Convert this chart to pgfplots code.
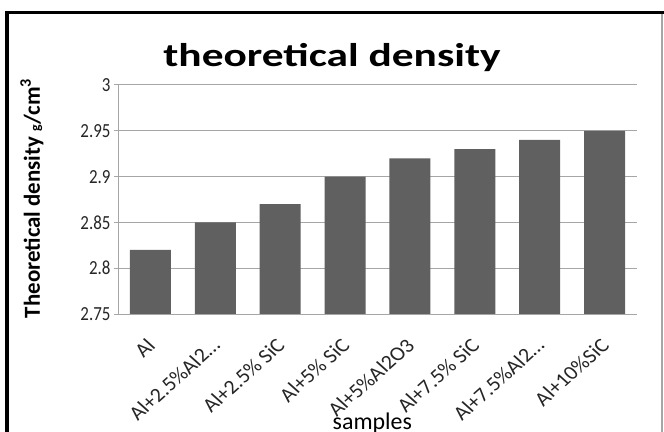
\documentclass[border=0pt]{standalone}
\usepackage{pgfplots}
\pgfplotsset{compat=1.18}
\usepackage{fontspec}
\setmainfont{Carlito}
\definecolor{barc}{HTML}{606060}
\definecolor{gridc}{HTML}{A6A6A6}
\begin{document}
\begin{tikzpicture}
\useasboundingbox (0,0) rectangle (664bp,432bp);
\fill[white] (0,0) rectangle (664bp,432bp);
\begin{axis}[
  at={(118bp,118bp)}, anchor=south west,
  scale only axis, width=519bp, height=229bp,
  ymin=2.75, ymax=3,
  ytick={2.75,2.8,2.85,2.9,2.95,3},
  /pgf/number format/fixed, /pgf/number format/precision=2,
  /pgf/number format/assume math mode=true,
  xmin=-0.5, xmax=7.5,
  xtick={0,1,2,3,4,5,6,7},
  xticklabels={Al,{Al+2.5\%Al2\ldots},{Al+2.5\% SiC},{Al+5\% SiC},{Al+5\%Al2O3},{Al+7.5\% SiC},{Al+7.5\%Al2\ldots},{Al+10\%SiC}},
  xticklabel style={xshift=-5bp, yshift=-19bp, xscale=1.12, rotate=45, anchor=north east, inner sep=0pt, font=\fontsize{20}{20}\selectfont, text=black!85},
  yticklabel style={font=\fontsize{17}{17}\selectfont, yscale=1.18, text=black!85},
  axis x line*=bottom, axis y line*=left,
  axis line style={gridc, line width=1bp},
  x axis line style={-}, y axis line style={-},
  ymajorgrids, grid style={gridc, line width=1bp},
  major tick length=4bp,
  xtick style={draw=none},
  ytick style={gridc, line width=1bp},
  tick align=outside,
  ybar, bar width=41bp,
  xlabel={samples},
  xlabel style={at={(axis description cs:0.49,-0.475)}, anchor=center, font=\fontsize{24}{24}\selectfont},
  ylabel={\textbf{Theoretical density} {\fontsize{14}{14}\selectfont\textbf{g}}\textbf{/cm\textsuperscript{3}}},
  ylabel style={at={(axis description cs:-0.166,0.505)}, anchor=center, font=\fontsize{23}{23}\selectfont},
]
\addplot[fill=barc, draw=none] coordinates {(0,2.82) (1,2.85) (2,2.87) (3,2.90) (4,2.92) (5,2.93) (6,2.94) (7,2.95)};
\end{axis}
\node[font=\fontsize{33}{33}\selectfont\bfseries, xscale=1.32] at (332bp,374bp) {theoretical density};
\draw[black, line width=3.5bp] (7bp,0) -- (7bp,419.5bp) -- (664bp,419.5bp);
\draw[gridc, line width=1.5bp] (662bp,418bp) -- (662bp,0);
\end{tikzpicture}
\end{document}
